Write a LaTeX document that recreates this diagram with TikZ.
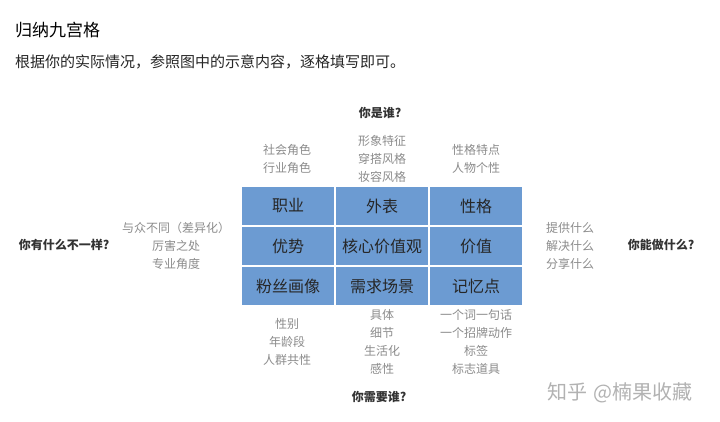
\documentclass[tikz,border=0pt]{standalone}
\usepackage{fontspec}
\setmainfont{Noto Sans CJK SC}
\usepackage{tikz}
\usetikzlibrary{calc,positioning}
\definecolor{cellblue}{HTML}{6C9BD2}
\definecolor{notegray}{HTML}{8C8C8C}
\definecolor{headgray}{HTML}{333333}

\begin{document}
\begin{tikzpicture}[x=1pt, y=-1pt]
      \tikzstyle{cell} = [draw=white, line width=1.5pt, fill=cellblue, rectangle, minimum width=94pt, minimum height=40pt, inner sep=0pt, font=\fontsize{16}{18}\selectfont, text=black!85]
      \tikzstyle{note} = [align=center, text=notegray, inner sep=0pt, font=\fontsize{12}{18}\selectfont]
      \tikzstyle{ask} = [align=center, text=headgray, inner sep=0pt, font=\fontsize{12}{14}\selectfont\bfseries]

      \useasboundingbox[fill=white] (0,0) rectangle (720,422);

      %%%%%%%%%%%%%%%%%%%%%%%%%%%%%%
      %% Heading
      %%%%%%%%%%%%%%%%%%%%%%%%%%%%%%
      \node[anchor=west, inner sep=0pt, font=\fontsize{17}{19}\selectfont] (title) at (15,30) {归纳九宫格};
      \node[anchor=west, inner sep=0pt, font=\fontsize{15}{17}\selectfont, text=black!85] (intro) at (15,62) {根据你的实际情况，参照图中的示意内容，逐格填写即可。};

      %%%%%%%%%%%%%%%%%%%%%%%%%%%%%%
      %% The 3-by-3 grid
      %%%%%%%%%%%%%%%%%%%%%%%%%%%%%%
      \node[cell] (c11) at (288,206) {职业};
      \node[cell] (c12) at (382,206) {外表};
      \node[cell] (c13) at (476,206) {性格};

      \node[cell] (c21) at (288,246) {优势};
      \node[cell] (c22) at (382,246) {核心价值观};
      \node[cell] (c23) at (476,246) {价值};

      \node[cell] (c31) at (288,286) {粉丝画像};
      \node[cell] (c32) at (382,286) {需求场景};
      \node[cell] (c33) at (476,286) {记忆点};

      %%%%%%%%%%%%%%%%%%%%%%%%%%%%%%
      %% Notes above and below
      %%%%%%%%%%%%%%%%%%%%%%%%%%%%%%
      \node[ask] (who) at (380,113) {你是谁?};
      \node[note] (n11) at (287,159) {社会角色\\行业角色};
      \node[note] (n12) at (382,159) {形象特征\\穿搭风格\\妆容风格};
      \node[note] (n13) at (476,159) {性格特点\\人物个性};

      \node[note] (n31) at (287,342) {性别\\年龄段\\人群共性};
      \node[note] (n32) at (382,342) {具体\\细节\\生活化\\感性};
      \node[note] (n33) at (476,342) {一个词一句话\\一个招牌动作\\标签\\标志道具};
      \node[ask] (need) at (379,397) {你需要谁?};

      %%%%%%%%%%%%%%%%%%%%%%%%%%%%%%
      %% Notes left and right
      %%%%%%%%%%%%%%%%%%%%%%%%%%%%%%
      \node[ask] (differ) at (64,245) {你有什么不一样?};
      \node[note] (n21) at (176,246) {与众不同（差异化）\\厉害之处\\专业角度};
      \node[note] (n23) at (570,246) {提供什么\\解决什么\\分享什么};
      \node[ask] (cando) at (661,245) {你能做什么?};

      % watermark
      \node[anchor=west, inner sep=0pt, text=black!30, font=\fontsize{20}{22}\selectfont] (mark) at (547,393) {知乎\hspace{6pt}@楠果收藏};
\end{tikzpicture}
\end{document}
